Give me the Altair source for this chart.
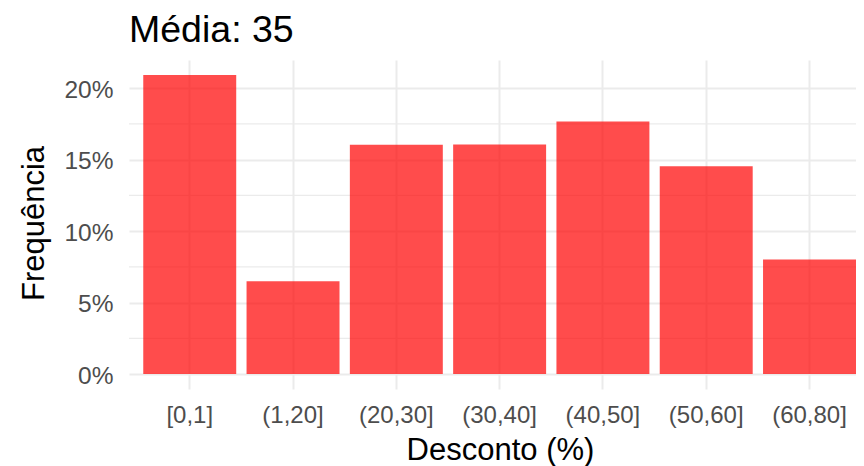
import altair as alt
import pandas as pd

categories = ["[0,1]", "(1,20]", "(20,30]", "(30,40]", "(40,50]", "(50,60]", "(60,80]"]
freq = [0.2092, 0.0649, 0.1604, 0.1606, 0.1767, 0.1454, 0.0801]
major_breaks = [0, 0.05, 0.10, 0.15, 0.20]
minor_breaks = [0.025, 0.075, 0.125, 0.175]
y_domain = [-0.01046, 0.2197]

df = pd.DataFrame({"faixa": categories, "freq": freq})
minor_df = pd.DataFrame({"freq": minor_breaks})

FONT = "Liberation Sans"
GRID = "#EBEBEB"

yscale = alt.Scale(domain=y_domain, nice=False, zero=False)
yaxis = alt.Axis(
    values=major_breaks,
    format=".0%",
    grid=True,
    gridColor=GRID,
    gridWidth=2,
    ticks=False,
    domain=False,
    labelFont=FONT,
    labelFontSize=24.5,
    labelColor="#4D4D4D",
    labelPadding=16,
    labelOffset=2,
    titleFont=FONT,
    titleFontSize=31,
    titleFontWeight="normal",
    titleColor="black",
    titleBaseline="alphabetic",
    titleAngle=270,
    titleX=-86,
    titleY=163,
)

minor = alt.Chart(minor_df).mark_rule(color=GRID, strokeWidth=1.2).encode(
    y=alt.Y("freq:Q", scale=yscale, title="Frequência", axis=yaxis)
)

bars = alt.Chart(df).mark_bar(color="#FF0000", opacity=0.7).encode(
    x=alt.X(
        "faixa:N",
        sort=categories,
        title="Desconto (%)",
        scale=alt.Scale(paddingInner=0.1, paddingOuter=0.069, align=1),
        axis=alt.Axis(
            labelAngle=0,
            bandPosition=0.5,
            grid=True,
            gridColor=GRID,
            gridWidth=2,
            ticks=False,
            domain=False,
            labelFont=FONT,
            labelFontSize=24,
            labelColor="#4D4D4D",
            labelPadding=14,
            titleFont=FONT,
            titleFontSize=31,
            titleFontWeight="normal",
            titleColor="black",
            titleBaseline="alphabetic",
            titleX=371,
            titleY=70,
        ),
    ),
    y=alt.Y("freq:Q", scale=yscale, title="Frequência", axis=yaxis),
    y2=alt.datum(0),
)

chart = (
    alt.layer(minor, bars)
    .properties(
        width=727,
        height=329,
        title=alt.Title(
            "Média: 35",
            anchor="start",
            frame="group",
            font=FONT,
            fontSize=37.5,
            fontWeight="normal",
            color="black",
            baseline="alphabetic",
            offset=12,
            dy=31,
        ),
        autosize=alt.AutoSizeParams(type="none"),
        padding={"left": 121, "top": 52, "right": 0, "bottom": 80},
    )
    .configure_view(stroke=None)
)

chart.save("out.html", embed_options={"renderer": "svg", "actions": False})
